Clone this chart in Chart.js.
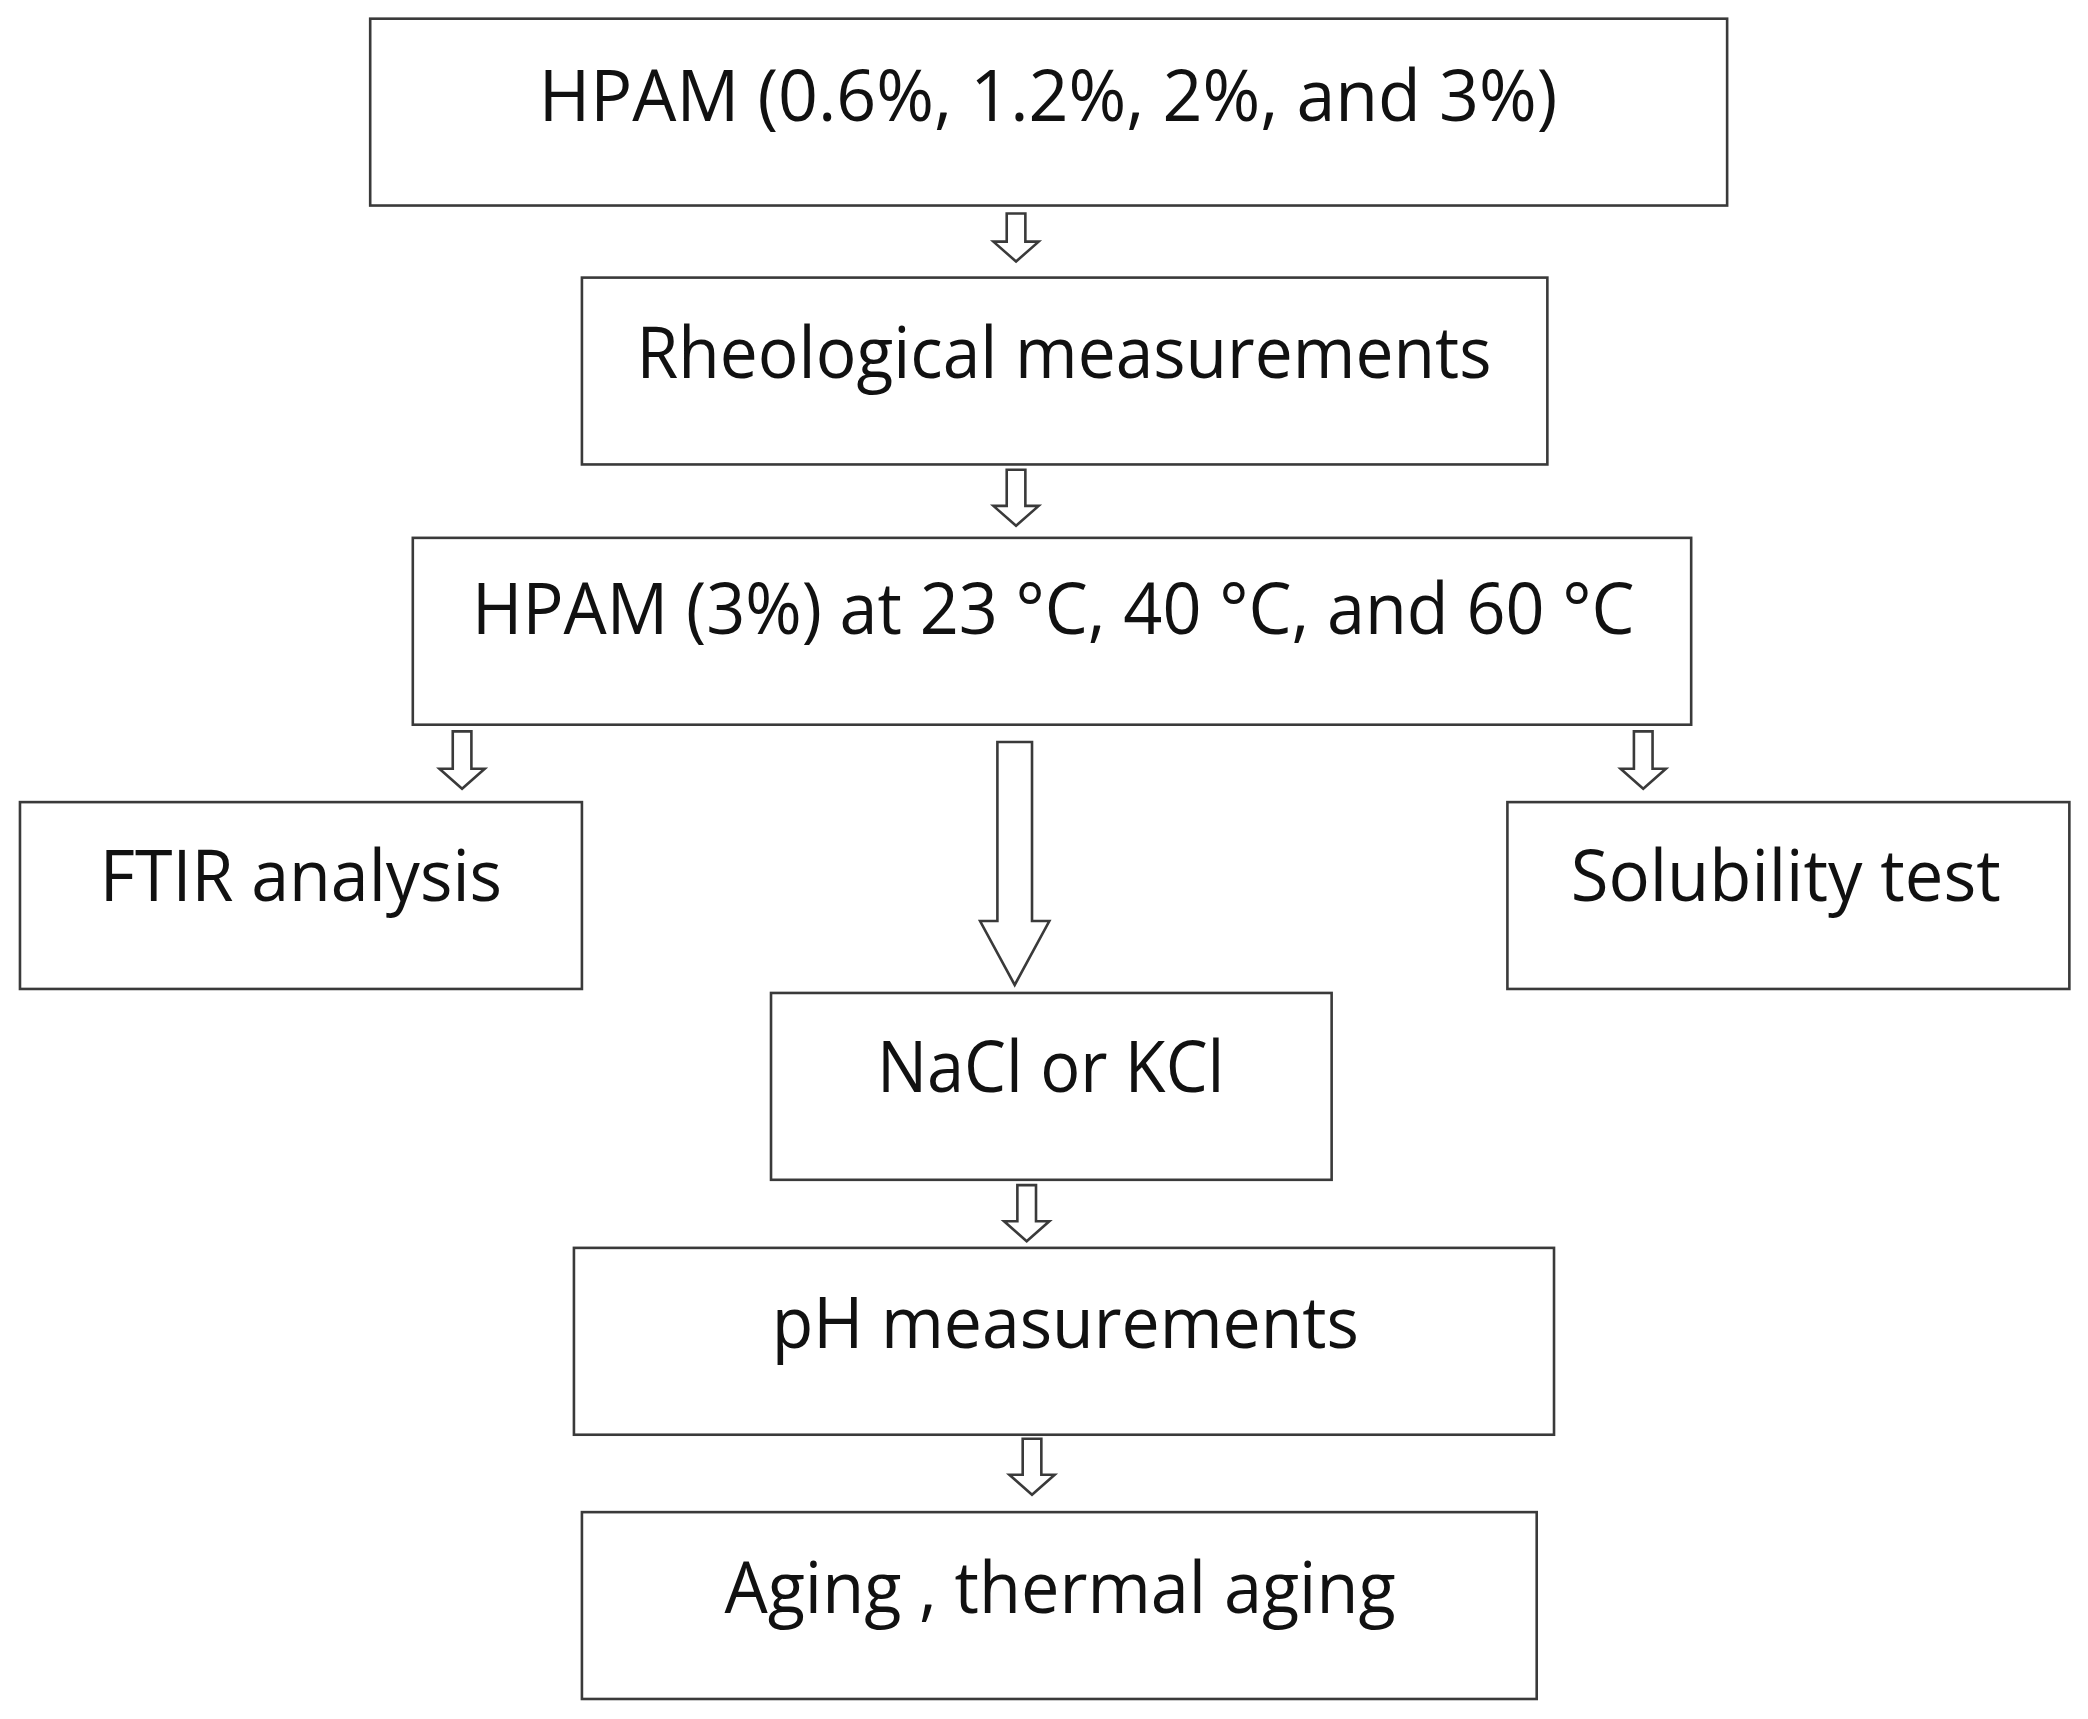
<!DOCTYPE html>
<html>
<head>
<meta charset="utf-8">
<script src="https://cdn.jsdelivr.net/npm/chart.js@4"></script>
<style>
  html, body { margin: 0; padding: 0; background: #fff; }
  #wrap { width: 2088px; height: 1719px; }
</style>
</head>
<body>
<div id="wrap"><canvas id="flow"></canvas></div>
<script>
// step labels
const labels = [
    'HPAM (0.6%, 1.2%, 2%, and 3%)',
    'Rheological measurements',
    'HPAM (3%) at 23 °C, 40 °C, and 60 °C',
    'FTIR analysis',
    'Solubility test',
    'NaCl or KCl',
    'pH measurements',
    'Aging , thermal aging'
];
// box extents in the diagram's units (x: 0..1568, y: 0..1288 top-down)
const boxLeft   = [278, 437, 310, 15, 1132, 579, 431, 437];
const boxRight  = [1297, 1162, 1270, 437, 1554, 1000, 1167, 1154];
const boxTop    = [14, 208, 403, 601, 601, 744, 935, 1133];
const boxBottom = [154, 348, 543, 741, 741, 884, 1075, 1273];
// text anchor and the width the text spans
const textX     = [787, 799, 791, 226, 1341, 789, 800, 796];
const textY     = [75, 268, 460, 660, 660, 803, 995, 1193];
const textW     = [765, 642, 873, 302, 323, 261, 441, 504];
// arrows: x, top, bottom, big?
const arrowX    = [763, 763, 347, 1234, 762, 771, 775];
const arrowTop  = [160, 352, 548, 548, 556, 888, 1078];
const arrowBot  = [196, 394, 591, 591, 738, 930, 1120];
const arrowBig  = [false, false, false, false, true, false, false];

const flowPlugin = {
    id: 'flow',
    afterDraw(chart) {
        const { ctx, scales: { x, y } } = chart;
        const sx = x.getPixelForValue(1) - x.getPixelForValue(0);
        ctx.save();
        ctx.strokeStyle = '#3a3a3a';
        ctx.lineWidth = 2.6;
        ctx.fillStyle = '#fff';

        // boxes
        for (let i = 0; i < labels.length; i++) {
            const l = x.getPixelForValue(boxLeft[i]), r = x.getPixelForValue(boxRight[i]);
            const t = y.getPixelForValue(boxTop[i]), b = y.getPixelForValue(boxBottom[i]);
            ctx.fillRect(l, t, r - l, b - t);
            ctx.strokeRect(l, t, r - l, b - t);
        }

        // hollow block arrows
        for (let i = 0; i < arrowX.length; i++) {
            const cx = x.getPixelForValue(arrowX[i]);
            const t = y.getPixelForValue(arrowTop[i]), b = y.getPixelForValue(arrowBot[i]);
            const shaft = (arrowBig[i] ? 13 : 7) * sx;
            const head = (arrowBig[i] ? 26 : 17) * sx;
            const headH = (arrowBig[i] ? 48 : 15) * sx;
            ctx.beginPath();
            ctx.moveTo(cx - shaft, t);
            ctx.lineTo(cx + shaft, t);
            ctx.lineTo(cx + shaft, b - headH);
            ctx.lineTo(cx + head, b - headH);
            ctx.lineTo(cx, b);
            ctx.lineTo(cx - head, b - headH);
            ctx.lineTo(cx - shaft, b - headH);
            ctx.closePath();
            ctx.fill();
            ctx.stroke();
        }

        // labels, stretched to the width they span in the reference
        ctx.fillStyle = '#111';
        ctx.textAlign = 'center';
        ctx.textBaseline = 'middle';
        const size = 54 * sx;
        ctx.font = size + 'px "Open Sans", sans-serif';
        for (let i = 0; i < labels.length; i++) {
            const cx = x.getPixelForValue(textX[i]), cy = y.getPixelForValue(textY[i]);
            const natural = ctx.measureText(labels[i]).width;
            const k = (textW[i] * sx) / natural;
            ctx.save();
            ctx.translate(cx, cy);
            ctx.scale(k, 1);
            ctx.fillText(labels[i], 0, 0);
            ctx.restore();
        }
        ctx.restore();
    }
};

new Chart(document.getElementById('flow').getContext('2d'), {
    type: 'scatter',
    data: { datasets: [{ data: [], pointRadius: 0 }] },
    options: {
        responsive: true,
        maintainAspectRatio: false,
        animation: false,
        layout: { padding: 0 },
        plugins: { legend: { display: false }, tooltip: { enabled: false } },
        scales: {
            x: { type: 'linear', min: 0, max: 1568, display: false },
            y: { type: 'linear', min: 0, max: 1288, reverse: true, display: false }
        }
    },
    plugins: [flowPlugin]
});
</script>
</body>
</html>
